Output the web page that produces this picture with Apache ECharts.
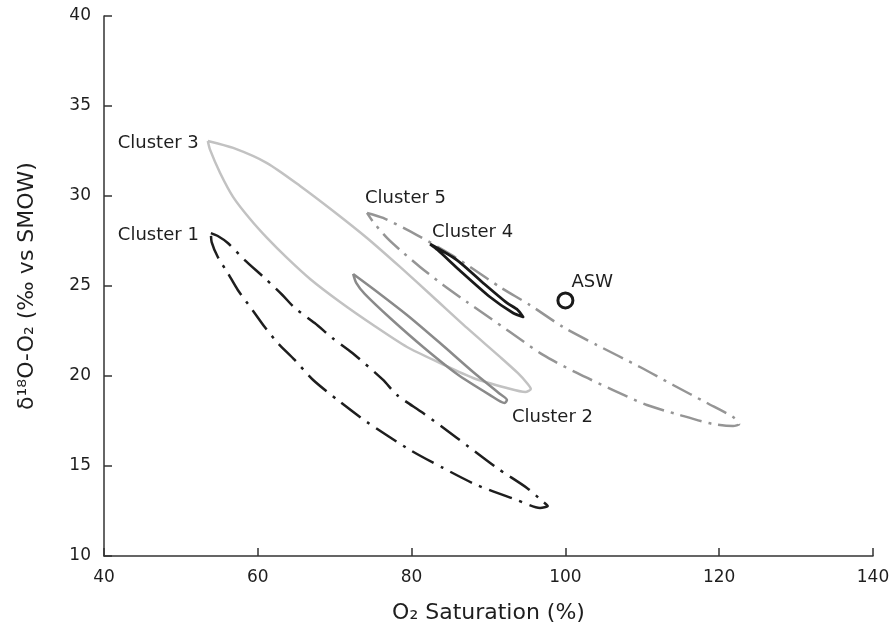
<!DOCTYPE html>
<html>
<head>
<meta charset="utf-8">
<script src="https://cdn.jsdelivr.net/npm/echarts@6/dist/echarts.min.js"></script>
<style>
  html, body { margin: 0; padding: 0; background: #fff; }
  #chart { width: 895px; height: 643px; }
</style>
</head>
<body>
<div id="chart"></div>
<script>
// Outline of each cluster in (O2 saturation %, δ18O-O2 ‰) space; each loop starts at its tip.
const cluster1 = [[53.9,27.94],[54.8,27.78],[56.1,27.39],[58.3,26.44],[60.9,25.44],[63.2,24.5],[64.8,23.78],[67.4,22.94],[69.7,22.11],[72.3,21.28],[76.3,19.78],[78.1,18.94],[81.5,17.94],[85.9,16.56],[91.1,14.89],[95.0,13.78],[97.0,13.05],[97.7,12.78],[96.7,12.67],[93.7,13.11],[88.5,13.94],[84.1,14.89],[79.8,15.89],[74.2,17.44],[70.7,18.56],[67.2,19.78],[64.8,20.89],[62.6,21.83],[60.9,22.72],[59.3,23.67],[57.4,24.78],[56.1,25.72],[54.8,26.61],[54.0,27.44],[53.9,27.94]];
const cluster2 = [[72.4,25.67],[75.2,24.78],[79.4,23.39],[83.7,21.83],[88.0,20.22],[91.5,19.0],[92.4,18.67],[92.1,18.5],[90.2,18.94],[85.9,20.11],[81.5,21.61],[77.2,23.22],[73.9,24.56],[72.8,25.17],[72.4,25.67]];
const cluster3 = [[53.5,33.06],[56.8,32.67],[61.2,31.83],[65.5,30.56],[69.8,29.17],[74.2,27.67],[78.5,26.06],[82.8,24.39],[87.2,22.67],[91.5,21.06],[93.8,20.17],[95.1,19.56],[95.5,19.28],[94.8,19.11],[92.4,19.33],[88.0,19.89],[83.7,20.72],[79.4,21.61],[75.0,22.83],[70.7,24.11],[66.8,25.39],[63.8,26.56],[61.2,27.67],[59.0,28.72],[56.8,29.94],[55.1,31.28],[53.8,32.56],[53.5,33.06]];
const cluster4 = [[82.4,27.33],[85.9,26.44],[89.3,25.17],[92.4,24.06],[93.8,23.67],[94.5,23.28],[93.2,23.5],[90.2,24.39],[86.2,25.89],[83.4,27.0],[82.4,27.33]];
const cluster5 = [[74.2,29.06],[76.3,28.78],[80.7,27.83],[85.0,26.78],[87.6,26.06],[91.5,24.94],[95.4,23.94],[99.7,22.72],[104.1,21.72],[109.7,20.5],[114.0,19.5],[118.4,18.5],[121.8,17.72],[122.6,17.33],[121.8,17.22],[119.2,17.33],[114.9,17.83],[110.6,18.39],[106.2,19.22],[101.5,20.17],[97.1,21.17],[92.8,22.44],[90.2,23.22],[87.2,24.11],[84.1,25.06],[81.1,26.06],[78.5,27.0],[76.8,27.67],[75.0,28.56],[74.2,29.06]];
// Air-saturated water reference point
const asw = [[100, 24.2]];

const xTicks = [40, 60, 80, 100, 120, 140];
const yTicks = [10, 15, 20, 25, 30, 35, 40];

const FONT = 'DejaVu Sans';
const INK = '#1e1e1e';

function tag(text, coord, offset, align) {
  return {
    coord: coord,
    symbol: 'circle',
    symbolSize: 1,
    itemStyle: { color: 'rgba(0,0,0,0)' },
    label: {
      show: true, formatter: text, position: 'inside', offset: offset,
      align: align, verticalAlign: 'middle',
      fontFamily: FONT, fontSize: 18, color: INK
    }
  };
}

function loop(name, data, color, width, dash, tagItem) {
  return {
    name: name, type: 'line', data: data, showSymbol: false, symbol: 'none',
    smooth: 0.25, silent: true,
    lineStyle: { color: color, width: width, type: dash, cap: 'butt', join: 'round' },
    markPoint: { silent: true, animation: false, data: [tagItem] }
  };
}

const chart = echarts.init(document.getElementById('chart'), null, { renderer: 'canvas' });
chart.setOption({
  animation: false,
  backgroundColor: '#fff',
  grid: { left: 104, right: 22, top: 16, bottom: 87 },
  xAxis: {
    type: 'value', min: xTicks[0], max: xTicks[xTicks.length - 1], interval: xTicks[1] - xTicks[0],
    name: 'O₂ Saturation (%)', nameLocation: 'middle', nameGap: 46,
    nameTextStyle: { fontFamily: FONT, fontSize: 22, color: INK },
    axisLine: { onZero: false, lineStyle: { color: '#333', width: 1.5 } },
    axisTick: { inside: true, length: 8, lineStyle: { color: '#333', width: 1.5 } },
    axisLabel: { margin: 13, fontFamily: FONT, fontSize: 17, color: INK },
    splitLine: { show: false }
  },
  yAxis: {
    type: 'value', min: yTicks[0], max: yTicks[yTicks.length - 1], interval: yTicks[1] - yTicks[0],
    name: 'δ¹⁸O-O₂ (‰ vs SMOW)', nameLocation: 'middle', nameGap: 66, nameRotate: 90,
    nameTextStyle: { fontFamily: FONT, fontSize: 22, color: INK },
    axisLine: { onZero: false, lineStyle: { color: '#333', width: 1.5 } },
    axisTick: { inside: true, length: 8, lineStyle: { color: '#333', width: 1.5 } },
    axisLabel: { margin: 13, fontFamily: FONT, fontSize: 17, color: INK },
    splitLine: { show: false }
  },
  series: [
    loop('Cluster 3', cluster3, '#c2c2c2', 2.5, 'solid', tag('Cluster 3', cluster3[0], [-9, 2], 'right')),
    loop('Cluster 1', cluster1, '#1e1e1e', 2.5, [24, 8, 3, 8], tag('Cluster 1', cluster1[0], [-12, 2], 'right')),
    loop('Cluster 2', cluster2, '#8a8a8a', 2.5, 'solid', tag('Cluster 2', cluster2[6], [5, 17], 'left')),
    loop('Cluster 5', cluster5, '#959595', 2.5, [22, 7, 3, 7], tag('Cluster 5', cluster5[0], [-2, -15], 'left')),
    loop('Cluster 4', cluster4, '#1a1a1a', 2.8, 'solid', tag('Cluster 4', cluster4[0], [2, -12], 'left')),
    {
      name: 'ASW', type: 'scatter', data: asw, symbol: 'circle', symbolSize: 15, silent: true,
      itemStyle: { color: '#fff', borderColor: '#1a1a1a', borderWidth: 3, opacity: 1 },
      label: {
        show: true, formatter: 'ASW', position: [15, -9], align: 'left', verticalAlign: 'middle',
        fontFamily: FONT, fontSize: 18, color: INK
      }
    }
  ]
});
</script>
</body>
</html>
